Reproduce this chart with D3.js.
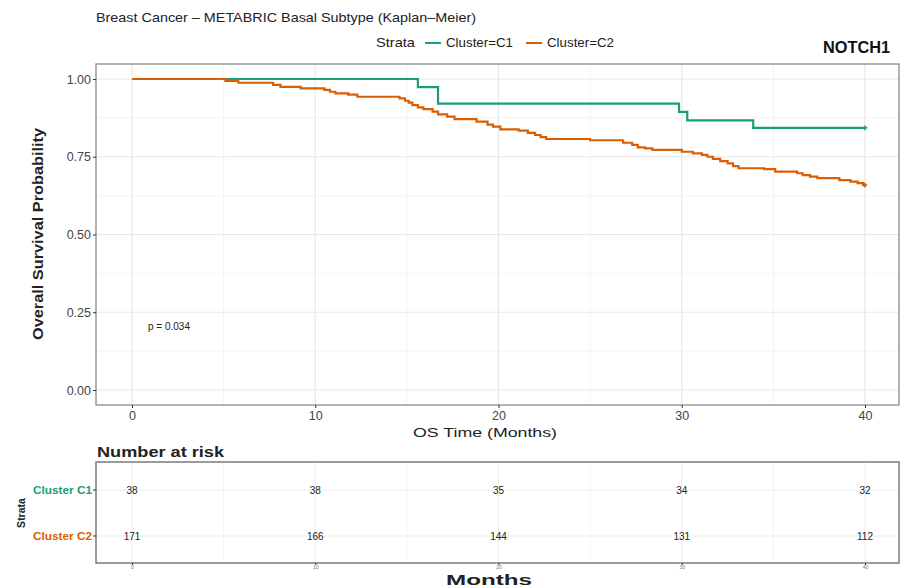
<!DOCTYPE html>
<html>
<head>
<meta charset="utf-8">
<script src="https://cdn.jsdelivr.net/npm/d3@7"></script>
<style>
  body { margin: 0; background: #fff; }
  svg text { font-family: "Liberation Sans", Arial, sans-serif; fill: #222; }
  .axis .domain { display: none; }
  .axis line { stroke: #333; }
  .axis text { fill: #444; }
</style>
</head>
<body>
<svg id="km" width="900" height="587"></svg>
<script>
// survival curves (months, probability)
var c1Times = [0, 15.6, 16.7, 29.85, 30.3, 33.9];
var c1Surv  = [1, 0.974, 0.921, 0.894, 0.867, 0.843];

var c2Times = [0, 5.1, 5.8, 7.7, 8.1, 9.2, 10.5, 10.8, 11.1, 11.8, 12.3, 14.6, 14.9, 15.1, 15.3,
               15.6, 15.9, 16.4, 16.7, 17.2, 17.6, 18.8, 19.4, 19.7, 20.1, 21.1, 21.6, 22.0, 22.3,
               22.6, 25.0, 26.8, 27.3, 27.6, 28.0, 28.4, 30.0, 30.6, 31.1, 31.4, 31.7, 32.1, 32.5,
               32.8, 33.1, 34.5, 35.1, 36.3, 36.6, 37.0, 37.4, 38.6, 39.2, 39.6, 39.9];
var c2Surv  = [1, 0.994, 0.988, 0.981, 0.975, 0.970, 0.965, 0.959, 0.954, 0.950, 0.943, 0.938, 0.930, 0.924, 0.916,
               0.909, 0.903, 0.895, 0.886, 0.879, 0.871, 0.863, 0.853, 0.847, 0.838, 0.834, 0.827, 0.820, 0.813,
               0.807, 0.803, 0.795, 0.788, 0.780, 0.777, 0.772, 0.766, 0.761, 0.756, 0.750, 0.743, 0.736, 0.729,
               0.720, 0.713, 0.710, 0.702, 0.697, 0.691, 0.686, 0.681, 0.675, 0.670, 0.665, 0.659];

var riskTimes = [0, 10, 20, 30, 40];
var riskC1 = [38, 38, 35, 34, 32];
var riskC2 = [171, 166, 144, 131, 112];

var xTicks = [0, 10, 20, 30, 40];
var xMinor = [5, 15, 25, 35];
var yTicks = [0, 0.25, 0.5, 0.75, 1];
var yMinor = [0.125, 0.375, 0.625, 0.875];

var green = "#1b9e77", orange = "#d95f02";

var svg = d3.select("#km");

var x = d3.scaleLinear().domain([0, 40]).range([132, 865]);
var y = d3.scaleLinear().domain([0, 1]).range([390, 79]);

var panel = { left: 96, top: 64, right: 899, bottom: 405 };

// grid
svg.append("g").selectAll("line").data(xMinor).enter().append("line")
  .attr("x1", x).attr("x2", x).attr("y1", panel.top).attr("y2", panel.bottom)
  .attr("stroke", "#f4f4f4").attr("stroke-width", 1);
svg.append("g").selectAll("line").data(yMinor).enter().append("line")
  .attr("y1", y).attr("y2", y).attr("x1", panel.left).attr("x2", panel.right)
  .attr("stroke", "#f4f4f4").attr("stroke-width", 1);
svg.append("g").selectAll("line").data(xTicks).enter().append("line")
  .attr("x1", x).attr("x2", x).attr("y1", panel.top).attr("y2", panel.bottom)
  .attr("stroke", "#e8e8e8").attr("stroke-width", 1.2);
svg.append("g").selectAll("line").data(yTicks).enter().append("line")
  .attr("y1", y).attr("y2", y).attr("x1", panel.left).attr("x2", panel.right)
  .attr("stroke", "#e8e8e8").attr("stroke-width", 1.2);

// curves
var line = d3.line().x(function(d) { return x(d[0]); }).y(function(d) { return y(d[1]); })
  .curve(d3.curveStepAfter);

function pts(t, s) {
  var p = t.map(function(v, i) { return [v, s[i]]; });
  p.push([40, s[s.length - 1]]);
  return p;
}

var series = [
  { pts: pts(c2Times, c2Surv), col: orange },
  { pts: pts(c1Times, c1Surv), col: green }
];
// orange first so green sits on top
svg.append("path").datum(series[0].pts).attr("d", line)
  .attr("fill", "none").attr("stroke", orange).attr("stroke-width", 2.2);
svg.append("path").datum(series[1].pts).attr("d", line)
  .attr("fill", "none").attr("stroke", green).attr("stroke-width", 2.2);
// hide green under orange until orange drops
svg.append("path").datum(series[0].pts.slice(0, 2)).attr("d", line)
  .attr("fill", "none").attr("stroke", orange).attr("stroke-width", 2.2);

// censor marks at the end
series.forEach(function(s) {
  var last = s.pts[s.pts.length - 1];
  svg.append("path")
    .attr("d", d3.symbol(d3.symbolCross, 12)())
    .attr("transform", "translate(" + x(last[0]) + "," + y(last[1]) + ")")
    .attr("fill", s.col);
});

// panel border
svg.append("rect").attr("x", panel.left).attr("y", panel.top)
  .attr("width", panel.right - panel.left).attr("height", panel.bottom - panel.top)
  .attr("fill", "none").attr("stroke", "#8a8a8a").attr("stroke-width", 1.3);

// axes
svg.append("g").attr("class", "axis")
  .attr("transform", "translate(" + panel.left + ",0)")
  .call(d3.axisLeft(y).tickValues(yTicks).tickSize(3).tickPadding(2).tickFormat(d3.format(".2f")))
  .selectAll("text").style("font-size", "12.5px");
svg.append("g").attr("class", "axis")
  .attr("transform", "translate(0," + panel.bottom + ")")
  .call(d3.axisBottom(x).tickValues(xTicks).tickSize(3).tickPadding(3))
  .selectAll("text").style("font-size", "12.5px");

// labels
svg.append("text").attr("x", 96).attr("y", 22).style("font-size", "13px")
  .attr("textLength", 380).attr("lengthAdjust", "spacingAndGlyphs")
  .text("Breast Cancer \u2013 METABRIC Basal Subtype (Kaplan\u2013Meier)");

svg.append("text").attr("x", 376).attr("y", 47).style("font-size", "13px")
  .attr("textLength", 39).attr("lengthAdjust", "spacingAndGlyphs").text("Strata");
var legend = [
  { name: "Cluster=C1", col: green, x0: 425 },
  { name: "Cluster=C2", col: orange, x0: 526 }
];
legend.forEach(function(d) {
  svg.append("line").attr("x1", d.x0).attr("x2", d.x0 + 16).attr("y1", 43).attr("y2", 43)
    .attr("stroke", d.col).attr("stroke-width", 2);
  svg.append("text").attr("x", d.x0 + 21).attr("y", 47).style("font-size", "13px")
    .attr("textLength", 67).attr("lengthAdjust", "spacingAndGlyphs").text(d.name);
});

svg.append("text").attr("x", 890).attr("y", 53).attr("text-anchor", "end")
  .style("font-size", "16px").style("font-weight", "bold").style("fill", "#111")
  .attr("textLength", 67).attr("lengthAdjust", "spacingAndGlyphs").text("NOTCH1");

svg.append("text").attr("transform", "translate(43,234) rotate(-90)")
  .attr("text-anchor", "middle").style("font-size", "14.5px").style("font-weight", "bold")
  .attr("textLength", 212).attr("lengthAdjust", "spacingAndGlyphs")
  .text("Overall Survival Probability");

svg.append("text").attr("x", 485).attr("y", 437).attr("text-anchor", "middle")
  .style("font-size", "13px").attr("textLength", 144).attr("lengthAdjust", "spacingAndGlyphs")
  .text("OS Time (Months)");

svg.append("text").attr("x", 148).attr("y", 330).style("font-size", "10px")
  .text("p = 0.034");

// risk table
var risk = { left: 96, top: 462, right: 899, bottom: 563 };
var rowY = { C1: 490, C2: 536 };

svg.append("text").attr("x", 97).attr("y", 457).style("font-size", "14.5px").style("font-weight", "bold")
  .attr("textLength", 127).attr("lengthAdjust", "spacingAndGlyphs").text("Number at risk");

svg.append("g").selectAll("line").data(xMinor).enter().append("line")
  .attr("x1", x).attr("x2", x).attr("y1", risk.top).attr("y2", risk.bottom)
  .attr("stroke", "#f4f4f4");
svg.append("g").selectAll("line").data(xTicks).enter().append("line")
  .attr("x1", x).attr("x2", x).attr("y1", risk.top).attr("y2", risk.bottom)
  .attr("stroke", "#ececec");
svg.append("g").selectAll("line").data([rowY.C1, rowY.C2]).enter().append("line")
  .attr("x1", risk.left).attr("x2", risk.right).attr("y1", function(d) { return d; })
  .attr("y2", function(d) { return d; }).attr("stroke", "#ececec");

svg.append("rect").attr("x", risk.left).attr("y", risk.top)
  .attr("width", risk.right - risk.left).attr("height", risk.bottom - risk.top)
  .attr("fill", "none").attr("stroke", "#666").attr("stroke-width", 1.3);

var rows = [
  { name: "Cluster C1", vals: riskC1, y: rowY.C1, col: green },
  { name: "Cluster C2", vals: riskC2, y: rowY.C2, col: orange }
];
rows.forEach(function(r) {
  svg.append("g").selectAll("text").data(r.vals).enter().append("text")
    .attr("x", function(d, i) { return x(riskTimes[i]); })
    .attr("y", r.y + 3.5).attr("text-anchor", "middle")
    .style("font-size", "10px").style("fill", "#222")
    .text(function(d) { return d; });
  svg.append("text").attr("x", 92).attr("y", r.y + 4).attr("text-anchor", "end")
    .style("font-size", "11px").style("font-weight", "bold").style("fill", r.col)
    .attr("textLength", 59).attr("lengthAdjust", "spacingAndGlyphs").text(r.name);
  svg.append("line").attr("x1", 93).attr("x2", 96).attr("y1", r.y).attr("y2", r.y).attr("stroke", "#333");
});

svg.append("text").attr("transform", "translate(25,513) rotate(-90)")
  .attr("text-anchor", "middle").style("font-size", "10.5px").style("font-weight", "bold")
  .text("Strata");

svg.append("g").attr("class", "axis")
  .attr("transform", "translate(0," + risk.bottom + ")")
  .call(d3.axisBottom(x).tickValues(xTicks).tickSize(2).tickPadding(0))
  .selectAll("text").style("font-size", "5px").style("fill", "#777");

svg.append("text").attr("x", 489).attr("y", 585).attr("text-anchor", "middle")
  .style("font-size", "15px").style("font-weight", "bold")
  .attr("textLength", 86).attr("lengthAdjust", "spacingAndGlyphs").text("Months");
</script>
</body>
</html>
